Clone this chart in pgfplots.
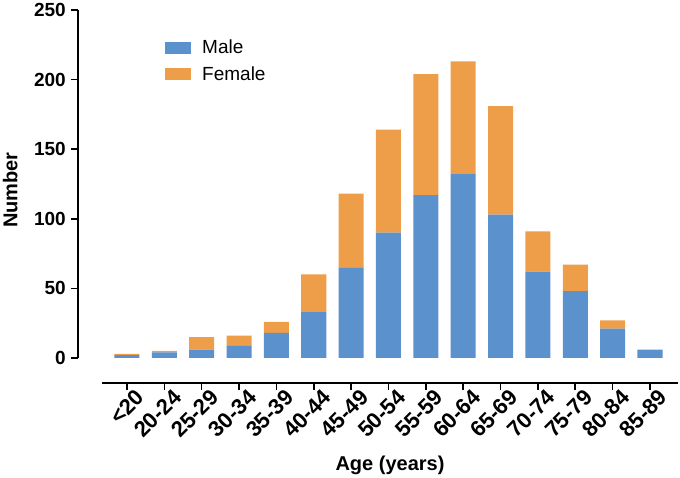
\documentclass[border=0pt]{standalone}
\usepackage{fontspec}
\setmainfont{Liberation Sans}
\usepackage{pgfplots}
\pgfplotsset{compat=1.18}
\definecolor{male}{RGB}{91,145,204}
\definecolor{female}{RGB}{238,157,72}
\begin{document}
\begin{tikzpicture}[x=1pt,y=1pt]
\useasboundingbox (0,0) rectangle (680,478);
\begin{axis}[
  at={(78pt,95pt)}, anchor=south west,
  scale only axis,
  width=600pt, height=373pt,
  xmin=-1.31, xmax=14.75,
  ymin=-18, ymax=250,
  ybar stacked, bar width=0.67,
  axis line style={draw=none},
  xtick={0,...,14},
  xticklabels={<20,20-24,25-29,30-34,35-39,40-44,45-49,50-54,55-59,60-64,65-69,70-74,75-79,80-84,85-89},
  x tick label style={rotate=45, anchor=north east, font=\bfseries\fontsize{22}{22}\selectfont, inner sep=0pt, xshift=7pt, yshift=-4pt},
  ytick={0,50,...,250},
  y tick label style={font=\bfseries\fontsize{19}{19}\selectfont, inner sep=0pt, xshift=-5pt},
  /pgf/number format/assume math mode=true,
  tick align=outside,
  xtick pos=lower, ytick pos=left,
  major tick length=7pt,
  tick style={black, line width=1.6pt},
  ylabel={\bfseries Number},
  xlabel={\bfseries Age (years)},
  label style={font=\bfseries\fontsize{20}{20}\selectfont},
  ylabel style={at={(rel axis cs:-0.113,0.517)}, anchor=center},
  xlabel style={at={(rel axis cs:0.52,-0.22)}, anchor=center},
  legend style={draw=none, fill=none, at={(rel axis cs:0.145,0.925)}, anchor=north west, font=\fontsize{19}{19}\selectfont, row sep=7pt, column sep=9pt, inner sep=0pt},
  legend image code/.code={\fill[#1] (0pt,-6pt) rectangle (26pt,6pt);},
  legend cell align=left,
  clip=false,
]
\addplot[fill=male, draw=none] coordinates {(0,2) (1,4) (2,6) (3,9) (4,18) (5,33) (6,65) (7,90) (8,117) (9,132) (10,103) (11,62) (12,48) (13,21) (14,6)};
\addplot[fill=female, draw=none] coordinates {(0,1) (1,1) (2,9) (3,7) (4,8) (5,27) (6,53) (7,74) (8,87) (9,81) (10,78) (11,29) (12,19) (13,6) (14,0)};
\legend{Male, Female}
\draw[line width=1.6pt] (axis cs:-1.31,0) -- (axis cs:-1.31,250);
\draw[line width=1.6pt] (axis cs:-0.67,-18) -- (axis cs:14.75,-18);
\end{axis}
\end{tikzpicture}
\end{document}
